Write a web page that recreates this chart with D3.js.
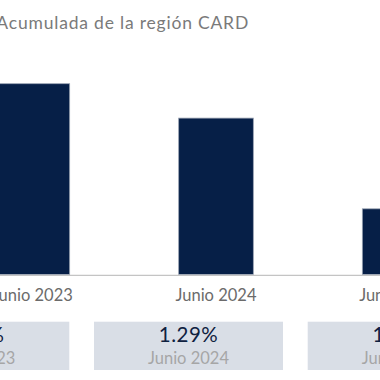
<!DOCTYPE html>
<html>
<head>
<meta charset="utf-8">
<script src="https://cdn.jsdelivr.net/npm/d3@7"></script>
<style>
  html, body { margin: 0; padding: 0; background: #fff; }
  svg { display: block; font-family: "Lato", "Noto Sans", sans-serif; }
</style>
</head>
<body>
<div id="chart"></div>
<script>
const titleText = "Acumulada de la región CARD";
const categories = ["Junio 2023", "Junio 2024", "Junio 2025"];
const values = [1.40, 1.29, 1.00];
const valueLabels = ["1.40%", "1.29%", "1.00%"];

const W = 380, H = 380;
const svg = d3.select("#chart").append("svg").attr("width", W).attr("height", H);

const x = d3.scaleBand().domain(categories).range([-114, 546]).paddingInner(0.5934).paddingOuter(0.5934);
const xBox = d3.scaleBand().domain(categories).range([-144.4, 521.4]).paddingInner(0.1156).paddingOuter(0.1156);
const y = d3.scaleLinear().domain([0.79, 1.40]).range([274.5, 83.7]);

// title
svg.append("text")
  .attr("x", 249).attr("y", 29.3)
  .attr("text-anchor", "end")
  .attr("font-size", 17.5)
  .attr("letter-spacing", 0.8)
  .attr("fill", "#7a7a7a")
  .text(titleText);

// bars
svg.selectAll("rect.bar").data(categories).join("rect")
  .attr("class", "bar")
  .attr("x", d => x(d))
  .attr("width", x.bandwidth())
  .attr("y", (d, i) => y(values[i]))
  .attr("height", (d, i) => y.range()[0] - y(values[i]))
  .attr("fill", "#061f47")
  .attr("stroke", "#9aa3b3")
  .attr("stroke-width", 0.8);

// baseline
svg.append("line")
  .attr("x1", 0).attr("x2", W)
  .attr("y1", 275.3).attr("y2", 275.3)
  .attr("stroke", "#c4c4c4").attr("stroke-width", 1.2);

// category labels
svg.selectAll("text.cat").data(categories).join("text")
  .attr("class", "cat")
  .attr("x", d => x(d) + x.bandwidth() / 2)
  .attr("y", 301)
  .attr("text-anchor", "middle")
  .attr("font-size", 16.5)
  .attr("fill", "#6b6b6b")
  .text(d => d);

// boxes
const g = svg.selectAll("g.box").data(categories).join("g").attr("class", "box");
g.append("rect")
  .attr("x", d => xBox(d))
  .attr("width", xBox.bandwidth())
  .attr("y", 321.7)
  .attr("height", 48.3)
  .attr("fill", "#d9dee6");
g.append("text")
  .attr("x", d => xBox(d) + xBox.bandwidth() / 2)
  .attr("y", 342.3)
  .attr("text-anchor", "middle")
  .attr("font-size", 20.5)
  .attr("font-weight", 400)
  .attr("letter-spacing", 0.5)
  .attr("fill", "#0f2140")
  .text((d, i) => valueLabels[i]);
g.append("text")
  .attr("x", d => xBox(d) + xBox.bandwidth() / 2)
  .attr("y", 364)
  .attr("text-anchor", "middle")
  .attr("font-size", 16.5)
  .attr("fill", "#a6a6a6")
  .text(d => d);
</script>
</body>
</html>
